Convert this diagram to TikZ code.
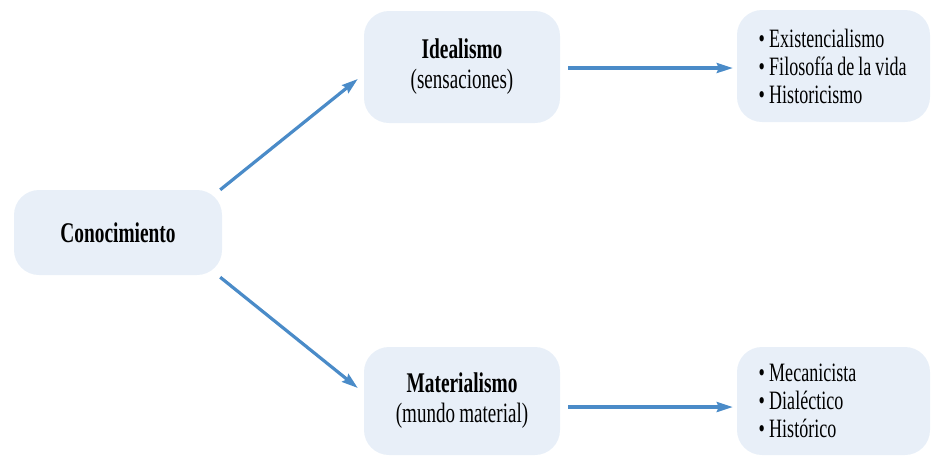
\documentclass[tikz,border=0pt]{standalone}
\usepackage{fontspec}
\setmainfont[FakeStretch=0.68,WordSpace=0.9]{Liberation Serif}
\usetikzlibrary{arrows.meta,calc}
\definecolor{boxfill}{RGB}{232,239,248}
\definecolor{arrowblue}{RGB}{74,139,200}
\newcommand{\itemline}[1]{\makebox[150pt][l]{•\,#1}}
\begin{document}
\begin{tikzpicture}[x=1pt,y=-1pt,
  box/.style={fill=boxfill, rounded corners=25pt, inner sep=0pt, align=center,
    font=\fontsize{28}{30}\selectfont},
  listbox/.style={box, align=left, minimum width=193pt,
    font=\fontsize{26.5}{28}\selectfont},
  conn/.style={draw=arrowblue, line width=3.2pt,
    -{Stealth[length=16pt,width=10pt,inset=2pt]}}]
\useasboundingbox (0,0) rectangle (932,456);
\node[box, minimum width=208pt, minimum height=85pt,
  font=\bfseries\fontsize{28.5}{29}\selectfont] (cono) at (118,232.5) {Conocimiento};
\node[box, minimum width=196pt, minimum height=112pt] (ideal) at (462,67)
  {\textbf{\fontsize{28.5}{30}\selectfont Idealismo}\\(sensaciones)};
\node[box, minimum width=196pt, minimum height=108pt] (mat) at (462,401)
  {\textbf{\fontsize{28.5}{30}\selectfont Materialismo}\\(mundo material)};
\node[listbox, minimum height=112pt] (exist) at (833.5,66)
  {\itemline{Existencialismo}\\\itemline{Filosofía de la vida}\\\itemline{Historicismo}};
\node[listbox, minimum height=108pt] (mec) at (833.5,401)
  {\itemline{Mecanicista}\\\itemline{Dialéctico}\\\itemline{Histórico}};
\draw[conn] ($(cono.north east)+(-2,0)$) -- ($(ideal.west)+(-6,12)$);
\draw[conn] ($(cono.south east)+(-2,2)$) -- ($(mat.west)+(-6,-13)$);
\draw[conn] ($(ideal.east)+(8,1)$) -- ($(exist.west)+(-4,2)$);
\draw[conn] ($(mat.east)+(8,6)$) -- ($(mec.west)+(-4,6)$);
\end{tikzpicture}
\end{document}
